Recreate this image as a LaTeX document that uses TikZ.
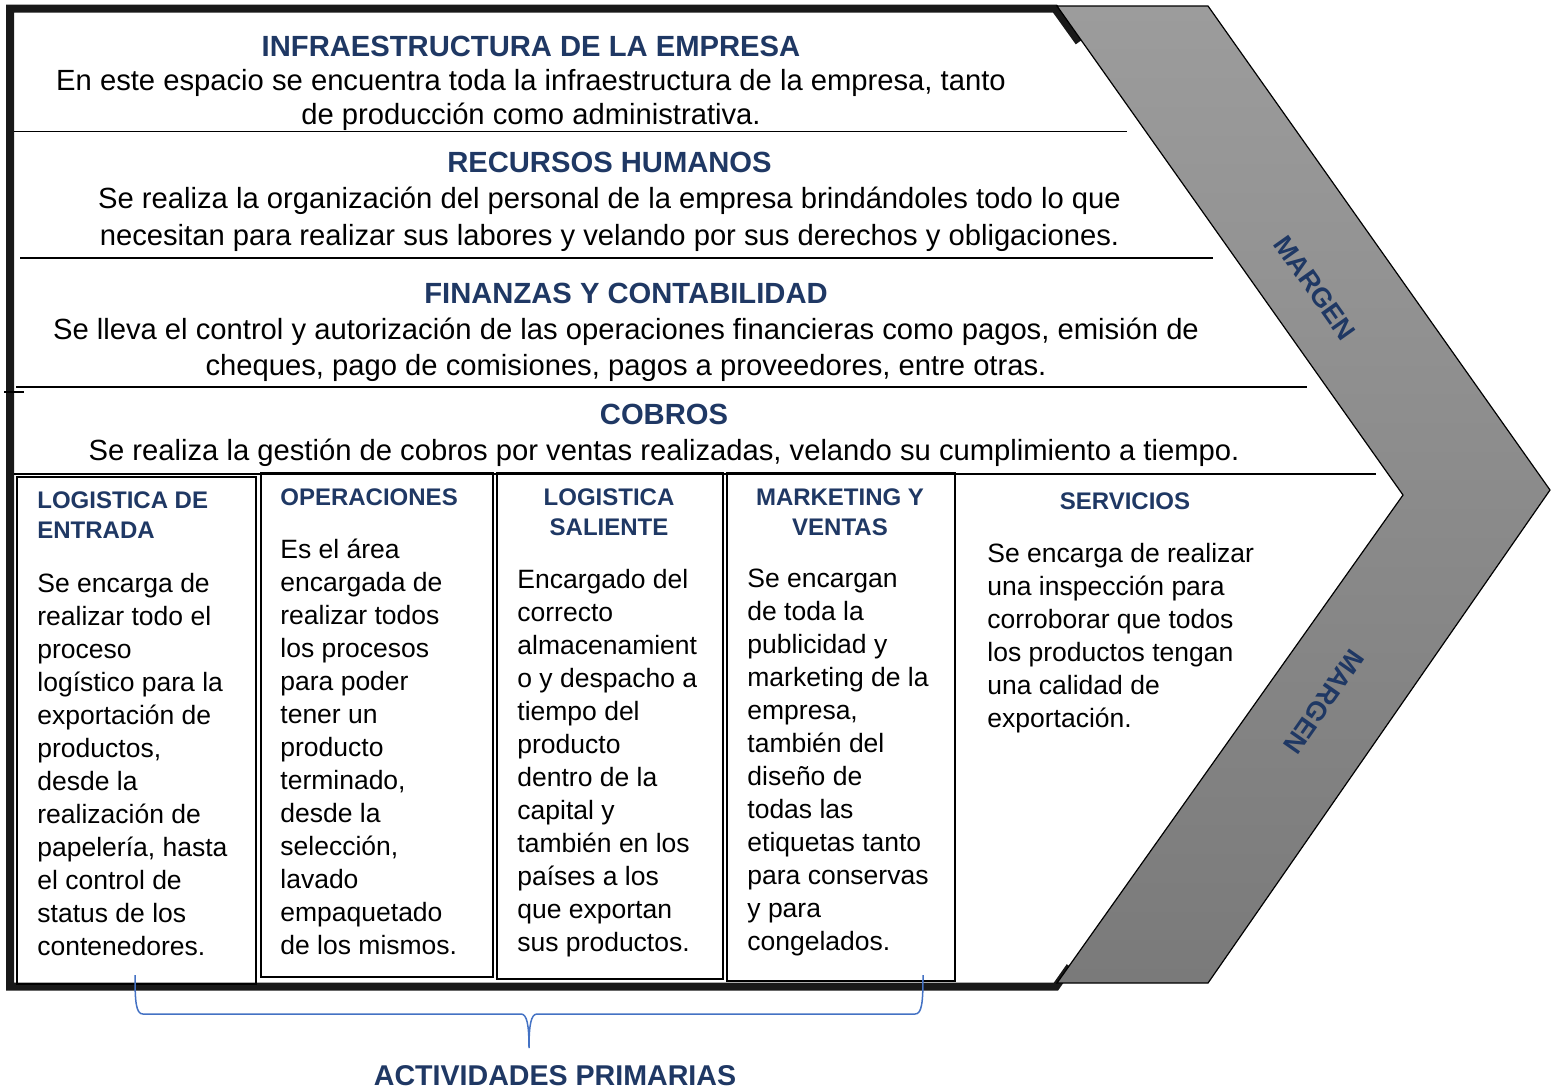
\documentclass[tikz,border=0pt]{standalone}
\usepackage{fontspec}
\setmainfont{Liberation Sans}
\definecolor{navy}{HTML}{1F3864}
\definecolor{gtop}{HTML}{9C9C9C}
\definecolor{gbot}{HTML}{7A7A7A}
\definecolor{bracec}{HTML}{4472C4}
\begin{document}
\begin{tikzpicture}[x=0.5pt,y=-0.5pt,
  sec/.style={anchor=north, align=center, inner sep=0pt, font=\fontsize{14.6pt}{17pt}\selectfont},
  rule/.style={line width=0.7pt, black},
  pbox/.style={draw=black, line width=0.75pt, anchor=north west, inner sep=0pt},
  btitle/.style={inner sep=0pt, font=\fontsize{12pt}{15pt}\selectfont\bfseries, text=navy},
  btext/.style={anchor=north west, align=left, inner sep=0pt, font=\fontsize{13.25pt}{16.5pt}\selectfont},
  margen/.style={inner sep=0pt, font=\fontsize{13.5pt}{15pt}\selectfont\bfseries, text=navy}]
\useasboundingbox (0,0) rectangle (1551,1089);
\fill[white] (0,0) rectangle (1551,1089);

% thick frame
\draw[line width=4pt, line join=miter, black!90] (1079,42) -- (1055,8.5) -- (10,8.5) -- (10,986.5) -- (1056,986.5) -- (1070,966.5);

% margin chevron
\path[draw=black, line width=0.6pt, top color=gtop, bottom color=gbot]
  (1057,6) -- (1208,6) -- (1550,490) -- (1208,983) -- (1057,983) -- (1403,495) -- cycle;

% horizontal rules
\draw[rule] (14,131.5) -- (1127,131.5);
\draw[rule] (20,258) -- (1213,258);
\draw[rule] (16,387) -- (1307,387);
\draw[rule] (4,392) -- (24,392);
\draw[rule] (14,474) -- (1376,474);

% sections
\node[sec] (infra) at (531,35.5) {\textcolor{navy}{\textbf{INFRAESTRUCTURA DE LA EMPRESA}}\\
  En este espacio se encuentra toda la infraestructura de la empresa, tanto\\
  de producción como administrativa.};
\node[sec, font=\fontsize{14.6pt}{18.2pt}\selectfont] (rrhh) at (609.5,151.5) {\textcolor{navy}{\textbf{RECURSOS HUMANOS}}\\
  Se realiza la organización del personal de la empresa brindándoles todo lo que\\
  necesitan para realizar sus labores y velando por sus derechos y obligaciones.};
\node[sec, font=\fontsize{14.6pt}{18pt}\selectfont] (fin) at (626,282.5) {\textcolor{navy}{\textbf{FINANZAS Y CONTABILIDAD}}\\
  Se lleva el control y autorización de las operaciones financieras como pagos, emisión de\\
  cheques, pago de comisiones, pagos a proveedores, entre otras.};
\node[sec, font=\fontsize{14.6pt}{18.3pt}\selectfont] (cobros) at (664,403.5) {\textcolor{navy}{\textbf{COBROS}}\\
  Se realiza la gestión de cobros por ventas realizadas, velando su cumplimiento a tiempo.};

% primary activity boxes
\node[pbox, line width=1pt, minimum width=119.75pt, minimum height=253.5pt] (box1) at (15.5,476) {};
\node[pbox, minimum width=116pt, minimum height=252pt] (box2) at (260,472) {};
\node[pbox, minimum width=113pt, minimum height=253pt] (box3) at (496,472) {};
\node[pbox, minimum width=114pt, minimum height=254pt] (box4) at (726,472) {};

\node[btitle, anchor=north west, align=left] (t1) at (37,491.5) {LOGISTICA DE\\ENTRADA};
\node[btext] (x1) at (37,573) {Se encarga de\\realizar todo el\\proceso\\logístico para la\\exportación de\\productos,\\desde la\\realización de\\papelería, hasta\\el control de\\status de los\\contenedores.};

\node[btitle, anchor=north west] (t2) at (280,488.5) {OPERACIONES};
\node[btext] (x2) at (280,539) {Es el área\\encargada de\\realizar todos\\los procesos\\para poder\\tener un\\producto\\terminado,\\desde la\\selección,\\lavado\\empaquetado\\de los mismos.};

\node[btitle, anchor=north, align=center] (t3) at (609,488.5) {LOGISTICA\\SALIENTE};
\node[btext] (x3) at (517,569) {Encargado del\\correcto\\almacenamient\\o y despacho a\\tiempo del\\producto\\dentro de la\\capital y\\también en los\\países a los\\que exportan\\sus productos.};

\node[btitle, anchor=north, align=center] (t4) at (840,488.5) {MARKETING Y\\VENTAS};
\node[btext] (x4) at (747,569) {Se encargan\\de toda la\\publicidad y\\marketing de la\\empresa,\\también del\\diseño de\\todas las\\etiquetas tanto\\para conservas\\y para\\congelados.};

\node[btitle, anchor=north] (t5) at (1125,492.5) {SERVICIOS};
\node[btext] (x5) at (987,543) {Se encarga de realizar\\una inspección para\\corroborar que todos\\los productos tengan\\una calidad de\\exportación.};

% margin labels
\node[margen, rotate=-54.7] (m1) at (1315,288) {MARGEN};
\node[margen, rotate=235] (m2) at (1324,702) {MARGEN};

% brace
\coordinate (brL) at (135,975);
\coordinate (brR) at (923,975);
\coordinate (brT) at (529,1048);
\draw[bracec, line width=0.75pt]
  (brL) .. controls (135,1002) and (136,1014) .. (143,1014) -- (521,1014)
  .. controls (527,1014) and (529,1025) .. (brT)
  .. controls (529,1025) and (531,1014) .. (537,1014) -- (915,1014)
  .. controls (922,1014) and (923,1002) .. (brR);
\node[inner sep=0pt, anchor=base, font=\fontsize{14.3pt}{17pt}\selectfont\bfseries, text=navy] (act) at (555,1085) {ACTIVIDADES PRIMARIAS};
\end{tikzpicture}
\end{document}
